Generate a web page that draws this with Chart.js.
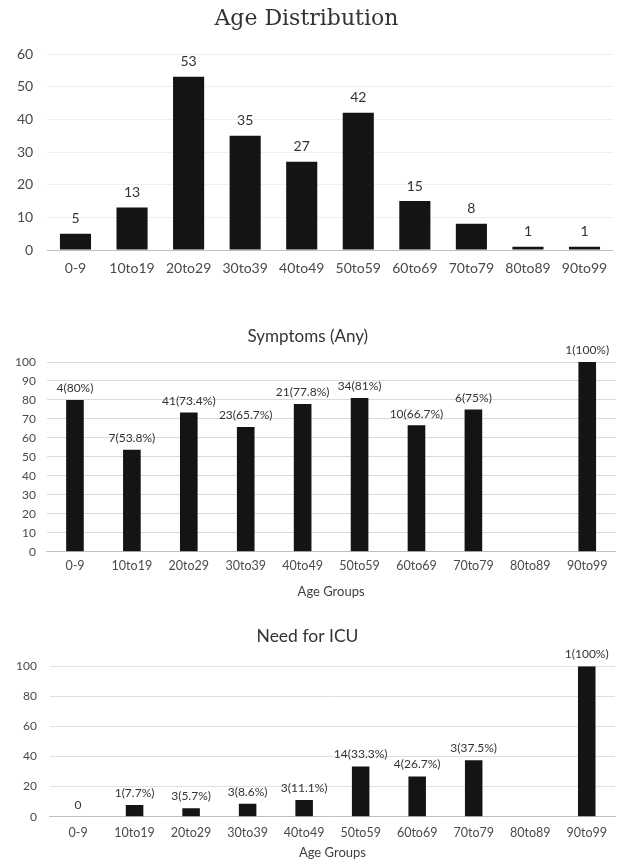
<!DOCTYPE html>
<html>
<head>
<meta charset="utf-8">
<script src="https://cdn.jsdelivr.net/npm/chart.js@4/dist/chart.umd.min.js"></script>
<style>
  html, body { margin: 0; padding: 0; background: #ffffff; }
  body { width: 618px; height: 861px; position: relative; overflow: hidden; }
  .box { position: absolute; left: 0; width: 618px; }
  canvas { display: block; }
</style>
</head>
<body>
<div class="box" style="top:0px;height:285px"><canvas id="c1" width="618" height="285"></canvas></div>
<div class="box" style="top:285px;height:315px"><canvas id="c2" width="618" height="315"></canvas></div>
<div class="box" style="top:600px;height:261px"><canvas id="c3" width="618" height="261"></canvas></div>
<script>
// ---- data ----
const categories = ['0-9', '10to19', '20to29', '30to39', '40to49', '50to59', '60to69', '70to79', '80to89', '90to99'];

const ageCounts = [5, 13, 53, 35, 27, 42, 15, 8, 1, 1];
const ageLabels = ['5', '13', '53', '35', '27', '42', '15', '8', '1', '1'];

const symptomPct = [80, 53.8, 73.4, 65.7, 77.8, 81, 66.7, 75, null, 100];
const symptomLabels = ['4(80%)', '7(53.8%)', '41(73.4%)', '23(65.7%)', '21(77.8%)', '34(81%)', '10(66.7%)', '6(75%)', '', '1(100%)'];

const icuPct = [0, 7.7, 5.7, 8.6, 11.1, 33.3, 26.7, 37.5, null, 100];
const icuLabels = ['0', '1(7.7%)', '3(5.7%)', '3(8.6%)', '3(11.1%)', '14(33.3%)', '4(26.7%)', '3(37.5%)', '', '1(100%)'];

const titles = ['Age Distribution', 'Symptoms (Any)', 'Need for ICU'];
const xAxisTitle = 'Age Groups';

// ---- helpers ----
Chart.defaults.devicePixelRatio = 1;
Chart.defaults.animation = false;
const SANS = 'Lato, "Liberation Sans", sans-serif';

const valueLabelPlugin = {
  id: 'valueLabels',
  afterDatasetsDraw(chart) {
    const cfg = chart.options.plugins.valueLabels;
    if (!cfg) return;
    const ctx = chart.ctx;
    const meta = chart.getDatasetMeta(0);
    ctx.save();
    ctx.font = cfg.font;
    ctx.fillStyle = cfg.color;
    ctx.textAlign = 'center';
    ctx.textBaseline = 'middle';
    meta.data.forEach((bar, i) => {
      const txt = cfg.labels[i];
      if (!txt) return;
      const y = isNaN(bar.y) ? chart.scales.y.getPixelForValue(0) : bar.y;
      ctx.fillText(txt, bar.x, y - cfg.offset);
    });
    ctx.restore();
  }
};

function makeChart(id, o) {
  return new Chart(document.getElementById(id), {
    type: 'bar',
    data: {
      labels: categories,
      datasets: [{
        data: o.values,
        backgroundColor: '#141414',
        borderWidth: 0,
        barPercentage: o.barPct,
        categoryPercentage: 1
      }]
    },
    options: {
      responsive: false,
      maintainAspectRatio: false,
      layout: { padding: { left: 0, right: o.padRight, top: 0, bottom: 0 } },
      plugins: {
        legend: { display: false },
        tooltip: { enabled: false },
        title: {
          display: true,
          text: o.title,
          color: '#333333',
          font: o.titleFont,
          padding: { top: o.titlePadTop, bottom: o.titlePadBottom }
        },
        valueLabels: { labels: o.labels, font: o.labelFont, color: '#333333', offset: o.labelOffset }
      },
      scales: {
        x: {
          grid: { display: false, drawTicks: false },
          border: { display: true, color: '#bfbfbf', width: 1 },
          ticks: { color: '#4a4a4a', font: o.tickFont, padding: o.xTickPad, maxRotation: 0, autoSkip: false },
          title: o.xTitle ? {
            display: true, text: xAxisTitle, color: '#404040',
            font: { family: SANS, size: 13 },
            padding: { top: 0, bottom: o.xTitlePadBottom }
          } : { display: false },
          afterFit(axis) { axis.height = o.xAxisHeight; }
        },
        y: {
          min: 0, max: o.yMax,
          grid: { color: o.gridColor, lineWidth: 1, drawTicks: false },
          border: { display: false },
          ticks: { stepSize: o.yStep, color: '#4a4a4a', font: o.yTickFont, padding: o.yTickPad },
          afterFit(axis) { axis.width = o.yAxisWidth; }
        }
      }
    },
    plugins: [valueLabelPlugin]
  });
}

makeChart('c1', {
  values: ageCounts, labels: ageLabels, title: titles[0],
  titleFont: { family: '"DejaVu Serif", serif', size: 22, weight: 'normal' },
  titlePadTop: 6, titlePadBottom: 21.6,
  barPct: 0.55, padRight: 5.2,
  labelFont: '14px ' + SANS, labelOffset: 15,
  tickFont: { family: SANS, size: 14 }, yTickFont: { family: SANS, size: 14 },
  xTickPad: 9.6, xAxisHeight: 35, xTitle: false,
  yMax: 60, yStep: 10, gridColor: '#efefef', yTickPad: 14, yAxisWidth: 47.2
});

makeChart('c2', {
  values: symptomPct, labels: symptomLabels, title: titles[1],
  titleFont: { family: SANS, size: 17, weight: 'normal' },
  titlePadTop: 41.8, titlePadBottom: 14.8,
  barPct: 0.31, padRight: 2.3,
  labelFont: '12px ' + SANS, labelOffset: 11.5,
  tickFont: { family: SANS, size: 12.5 }, yTickFont: { family: SANS, size: 12 },
  xTickPad: 6.8, xAxisHeight: 48.3, xTitle: true, xTitlePadBottom: 0.2,
  yMax: 100, yStep: 10, gridColor: '#dadada', yTickPad: 10.5, yAxisWidth: 46.5
});

makeChart('c3', {
  values: icuPct, labels: icuLabels, title: titles[2],
  titleFont: { family: SANS, size: 17.5, weight: 'normal' },
  titlePadTop: 25.8, titlePadBottom: 19.5,
  barPct: 0.31, padRight: 3,
  labelFont: '12px ' + SANS, labelOffset: 12,
  tickFont: { family: SANS, size: 12.5 }, yTickFont: { family: SANS, size: 12 },
  xTickPad: 9.1, xAxisHeight: 44.3, xTitle: true, xTitlePadBottom: 0.2,
  yMax: 100, yStep: 20, gridColor: '#e0e0e0', yTickPad: 12.8, yAxisWidth: 49.8
});
</script>
</body>
</html>
